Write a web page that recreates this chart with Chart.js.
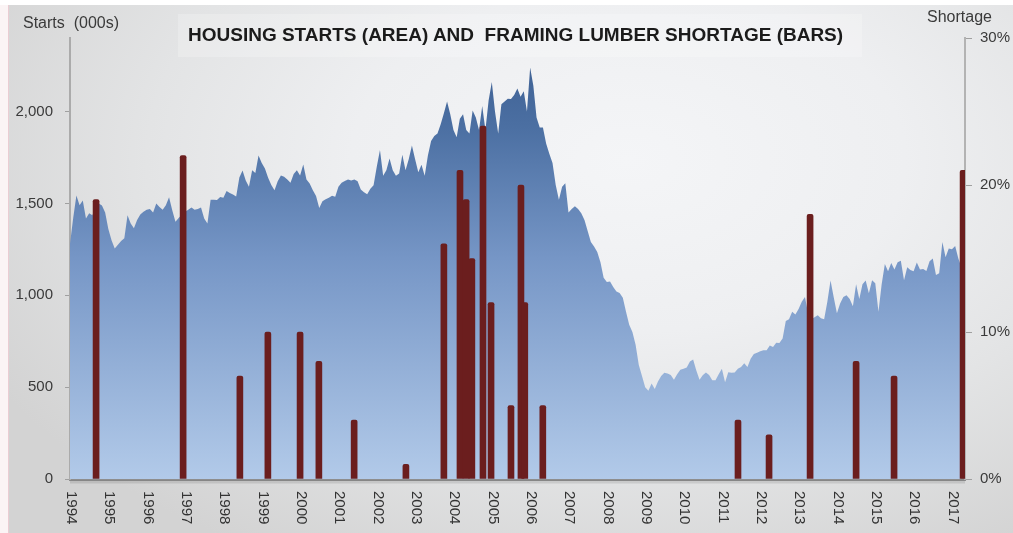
<!DOCTYPE html>
<html>
<head>
<meta charset="utf-8">
<script src="https://cdn.jsdelivr.net/npm/chart.js@4.4.1/dist/chart.umd.min.js"></script>
<style>
  html, body { margin: 0; padding: 0; background: #fff; }
  #wrap {
    position: relative; width: 1013px; height: 533px; overflow: hidden;
    background: radial-gradient(ellipse 72% 85% at 62% 30%, #f4f5f7 0%, #eeeff1 38%, #e3e4e5 66%, #d3d3d3 100%);
    font-family: "Liberation Sans", Arial, sans-serif;
  }
  #edge { position: absolute; left: 0; top: 0; width: 8px; height: 533px; background: #fbf4f5; border-right: 1px solid #eacdd3; }
  #topedge { position: absolute; left: 0; top: 0; width: 1013px; height: 5px; background: #fff; }
  #titlebox { position: absolute; left: 178px; top: 14px; width: 684px; height: 43px; background: rgba(255,255,255,0.22); }
  .txt { position: absolute; white-space: pre; line-height: 20px; }
  #title { left: 188px; top: 25px; font-weight: bold; font-size: 19px; color: #1b1b1b; }
  #ylab { left: 23px; top: 13px; font-size: 16px; color: #3a3a3a; }
  #y2lab { left: 927px; top: 7px; font-size: 16px; color: #3a3a3a; }
  canvas { position: absolute; left: 0; top: 0; }
</style>
</head>
<body>
<div id="wrap">
  <div id="edge"></div>
  <div id="topedge"></div>
  <div id="titlebox"></div>
  <canvas id="chart" width="1013" height="533"></canvas>
  <div class="txt" id="title">HOUSING STARTS (AREA) AND  FRAMING LUMBER SHORTAGE (BARS)</div>
  <div class="txt" id="ylab">Starts  (000s)</div>
  <div class="txt" id="y2lab">Shortage</div>
</div>
<script>
// monthly housing starts (000s), January 1994 onwards
const startYear = 1994;
const housingStarts = [
  1280, 1420, 1543, 1490, 1516, 1418, 1446, 1435, 1480, 1500, 1489, 1450,
  1360, 1300, 1255, 1275, 1295, 1310, 1435, 1391, 1364, 1410, 1440, 1455,
  1465, 1470, 1450, 1500, 1480, 1465, 1490, 1533, 1462, 1400, 1420, 1440,
  1455, 1465, 1478, 1465, 1470, 1478, 1418, 1391, 1520, 1520, 1518, 1535,
  1530, 1568, 1556, 1548, 1538, 1641, 1679, 1625, 1590, 1680, 1665, 1760,
  1720, 1690, 1640, 1600, 1571, 1620, 1652, 1645, 1630, 1612, 1660, 1680,
  1652, 1712, 1630, 1608, 1571, 1540, 1475, 1512, 1522, 1530, 1542, 1536,
  1590, 1612, 1622, 1630, 1625, 1630, 1620, 1575, 1560, 1550, 1580, 1598,
  1700, 1790, 1650, 1680, 1744, 1680, 1650, 1663, 1765, 1680, 1740, 1815,
  1740, 1670, 1710, 1650, 1760, 1840, 1866, 1880, 1930, 1990, 2055, 1985,
  1900, 1860, 1960, 1985, 1900, 1880, 2005, 1967, 1900, 2030, 1900, 2060,
  2160, 2000, 1880, 2040, 2055, 2070, 2068, 2090, 2125, 2080, 2110, 2000,
  2240, 2140, 1967, 1913, 1913, 1826, 1770, 1720, 1600, 1520, 1590, 1610,
  1450, 1470, 1485, 1470, 1446, 1410, 1350, 1290, 1265, 1235, 1180, 1095,
  1072, 1075, 1045, 1020, 1012, 986, 910, 840, 800, 730, 620, 560,
  500, 480, 520, 490, 530, 560, 578, 574, 566, 540, 570, 594,
  600, 607, 640, 650, 590, 540, 565, 580, 566, 538, 538, 570,
  600, 527, 581, 578, 580, 600, 609, 630, 610, 655, 680, 687,
  695, 701, 701, 726, 718, 742, 740, 765, 860, 870, 910, 895,
  925, 965, 990, 900, 870, 880, 891, 875, 870, 965, 1080, 989,
  902, 955, 990, 1000, 980, 940, 1060, 980, 1060, 1080, 1011, 1082,
  1065, 910, 1060, 1170, 1130, 1175, 1140, 1180, 1188, 1082, 1152, 1137,
  1130, 1178, 1140, 1143, 1132, 1185, 1200, 1110, 1120, 1290, 1207, 1255,
  1250, 1268, 1200, 1152
];

// framing lumber shortage episodes (decimal year, % short)
const shortageDates = [
  1994.68, 1996.95, 1998.43, 1999.16, 2000.0, 2000.49, 2001.41, 2002.76,
  2003.75, 2004.17, 2004.33, 2004.48, 2004.77, 2004.98, 2005.5, 2005.76,
  2005.86, 2006.33, 2011.42, 2012.23, 2013.3, 2014.5, 2015.49, 2017.29
];
const shortageValues = [
  19, 22, 7, 10, 10, 8, 4, 1,
  16, 21, 19, 15, 24, 12, 5, 20,
  12, 5, 4, 3, 18, 8, 7, 21
];

const startsTicks = [0, 500, 1000, 1500, 2000];
const shortageTicks = [0, 10, 20, 30];
const yearTicks = [];
for (let y = 1994; y <= 2017; y++) yearTicks.push(y);

const FONT = '"Liberation Sans", Arial, sans-serif';
Chart.defaults.font.family = FONT;

const startsPoints = housingStarts.map((v, i) => ({ x: startYear + i / 12, y: v }));
const shortagePoints = shortageDates.map((d, i) => ({ x: d, y: shortageValues[i] }));

// rotated year labels reading top to bottom
const yearLabels = {
  id: "yearLabels",
  afterDraw(chart) {
    const ctx = chart.ctx;
    const x = chart.scales.x;
    ctx.save();
    ctx.font = "15px " + FONT;
    ctx.fillStyle = "#333";
    ctx.textAlign = "left";
    ctx.textBaseline = "middle";
    yearTicks.forEach(yr => {
      ctx.save();
      ctx.translate(x.getPixelForValue(yr) + 1, 491);
      ctx.rotate(Math.PI / 2);
      ctx.fillText(String(yr), 0, 0);
      ctx.restore();
    });
    // soft shadow under the bottom axis
    ctx.strokeStyle = "rgba(0,0,0,0.10)";
    ctx.lineWidth = 3;
    ctx.beginPath();
    ctx.moveTo(chart.chartArea.left, chart.chartArea.bottom + 3);
    ctx.lineTo(chart.chartArea.right, chart.chartArea.bottom + 3);
    ctx.stroke();
    ctx.restore();
  }
};

function areaGradient(context) {
  const { ctx, chartArea } = context.chart;
  if (!chartArea) return "#7f9fcc";
  const g = ctx.createLinearGradient(0, chartArea.top, 0, chartArea.bottom);
  g.addColorStop(0, "#3a5c8f");
  g.addColorStop(0.2, "#4b6fa2");
  g.addColorStop(0.5, "#7696c6");
  g.addColorStop(1, "#b2cae9");
  return g;
}

new Chart(document.getElementById("chart"), {
  type: "bar",
  data: {
    datasets: [
      {
        type: "bar",
        label: "Shortage",
        data: shortagePoints,
        yAxisID: "y2",
        backgroundColor: "#6b1e1e",
        barThickness: 6,
        borderRadius: 2,
        order: 0
      },
      {
        type: "line",
        label: "Housing starts",
        data: startsPoints,
        yAxisID: "y",
        fill: "origin",
        backgroundColor: areaGradient,
        borderWidth: 0,
        pointRadius: 0,
        tension: 0,
        order: 1
      }
    ]
  },
  plugins: [yearLabels],
  options: {
    responsive: false,
    animation: false,
    layout: { padding: { top: 38, left: 0, right: 0, bottom: 0 } },
    plugins: { legend: { display: false }, tooltip: { enabled: false } },
    scales: {
      x: {
        type: "linear",
        min: 1994,
        max: 2017.34,
        offset: false,
        grid: { display: false },
        ticks: { display: false },
        border: { display: true, color: "#8e8e8e", width: 3 },
        afterFit(s) { s.height = 54; }
      },
      y: {
        position: "left",
        min: 0,
        max: 2400,
        afterBuildTicks(s) { s.ticks = startsTicks.map(v => ({ value: v })); },
        ticks: {
          padding: 12,
          color: "#3a3a3a",
          font: { size: 15 },
          callback: v => v.toLocaleString("en-US")
        },
        grid: { drawOnChartArea: false, tickLength: 5, color: "#a0a0a0" },
        border: { display: true, color: "#ababab", width: 2 },
        afterFit(s) { s.width = 70; }
      },
      y2: {
        position: "right",
        min: 0,
        max: 30,
        afterBuildTicks(s) { s.ticks = shortageTicks.map(v => ({ value: v })); },
        ticks: {
          padding: 8,
          color: "#3a3a3a",
          font: { size: 15 },
          callback: v => v + "%"
        },
        grid: { drawOnChartArea: false, tickLength: 7, color: "#a0a0a0" },
        border: { display: true, color: "#b3b3b3", width: 2 },
        afterFit(s) { s.width = 48; }
      }
    }
  }
});
</script>
</body>
</html>
